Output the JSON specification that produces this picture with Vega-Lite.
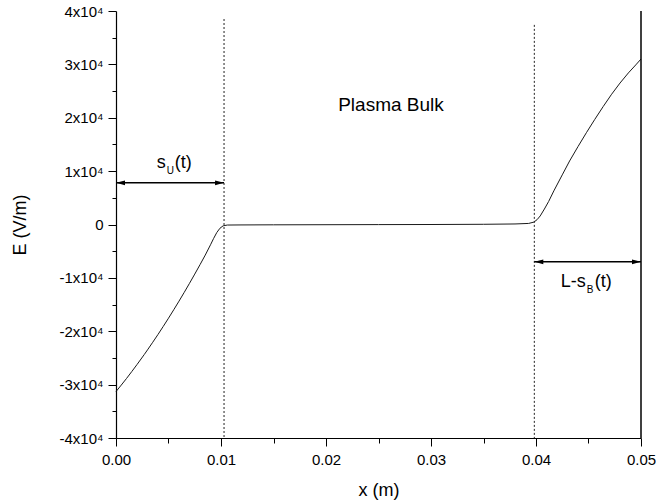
{
  "$schema": "https://vega.github.io/schema/vega-lite/v6.json",
  "autosize": {"type": "none"},
  "width": 525,
  "height": 427,
  "padding": {"left": 116, "top": 11, "right": 15, "bottom": 66},
  "background": "white",
  "config": {
    "view": {"stroke": null},
    "font": "Liberation Sans",
    "axis": {
      "domainColor": "#000",
      "domainWidth": 1.2,
      "tickColor": "#000",
      "tickWidth": 1,
      "grid": false,
      "labelFont": "Liberation Sans",
      "labelFontSize": 15,
      "labelColor": "#000",
      "titleFont": "Liberation Sans",
      "titleFontSize": 18,
      "titleFontWeight": "normal",
      "titleColor": "#000",
      "labelOverlap": false,
      "labelFlush": false
    }
  },
  "resolve": {"axis": {"x": "independent", "y": "independent"}},
  "datasets": {
    "curve": [
      {"x": 0.0, "E": -31300},
      {"x": 0.0005, "E": -30090},
      {"x": 0.001, "E": -28850},
      {"x": 0.0015, "E": -27560},
      {"x": 0.002, "E": -26240},
      {"x": 0.0027, "E": -24340},
      {"x": 0.003, "E": -23490},
      {"x": 0.0035, "E": -22060},
      {"x": 0.004, "E": -20600},
      {"x": 0.0045, "E": -19090},
      {"x": 0.005, "E": -17550},
      {"x": 0.0055, "E": -15970},
      {"x": 0.006, "E": -14360},
      {"x": 0.0065, "E": -12710},
      {"x": 0.007, "E": -11020},
      {"x": 0.0075, "E": -9290},
      {"x": 0.008, "E": -7530},
      {"x": 0.0085, "E": -5730},
      {"x": 0.009, "E": -3800},
      {"x": 0.0093, "E": -2600},
      {"x": 0.0096, "E": -1500},
      {"x": 0.0099, "E": -700},
      {"x": 0.0102, "E": -250},
      {"x": 0.0106, "E": -100},
      {"x": 0.012, "E": -80},
      {"x": 0.015, "E": -60},
      {"x": 0.02, "E": -40},
      {"x": 0.025, "E": -20},
      {"x": 0.03, "E": 0},
      {"x": 0.035, "E": 40},
      {"x": 0.038, "E": 100},
      {"x": 0.0393, "E": 200},
      {"x": 0.0398, "E": 450},
      {"x": 0.0401, "E": 900},
      {"x": 0.0404, "E": 1600},
      {"x": 0.0408, "E": 2900},
      {"x": 0.0412, "E": 4300},
      {"x": 0.0417, "E": 6300},
      {"x": 0.0425, "E": 9300},
      {"x": 0.0432, "E": 11900},
      {"x": 0.044, "E": 14600},
      {"x": 0.0448, "E": 17200},
      {"x": 0.0456, "E": 19700},
      {"x": 0.0464, "E": 22100},
      {"x": 0.0472, "E": 24400},
      {"x": 0.048, "E": 26500},
      {"x": 0.0488, "E": 28400},
      {"x": 0.0495, "E": 29900},
      {"x": 0.05, "E": 31000}
    ],
    "vlines": [
      {"x": 0.01029, "top": 38500, "bottom": -40000},
      {"x": 0.03984, "top": 37400, "bottom": -40000}
    ],
    "wall": [{"x": 0.05}],
    "arrows": [
      {"x1": 0.0, "x2": 0.01029, "y": 7800},
      {"x1": 0.03984, "x2": 0.05, "y": -7000}
    ],
    "heads": [
      {"x": 0.0, "y": 7800, "dir": "left"},
      {"x": 0.01029, "y": 7800, "dir": "right"},
      {"x": 0.03984, "y": -7000, "dir": "left"},
      {"x": 0.05, "y": -7000, "dir": "right"}
    ],
    "labels": [
      {"x": 0.00473, "y": 11500, "main": "s", "sub": "U", "tail": "(t)"},
      {"x": 0.04473, "y": -10800, "main": "L-s", "sub": "B", "tail": "(t)"}
    ],
    "bulk": [{"x": 0.02619, "y": 22300, "text": "Plasma Bulk"}]
  },
  "layer": [
    {
      "data": {"name": "curve"},
      "mark": {"type": "line", "color": "#1a1a1a", "strokeWidth": 1},
      "encoding": {
        "x": {
          "field": "x", "type": "quantitative", "title": "x (m)",
          "scale": {"domain": [0, 0.05], "nice": false, "zero": false},
          "axis": {
            "orient": "bottom",
            "values": [0, 0.01, 0.02, 0.03, 0.04, 0.05],
            "format": ".2f",
            "tickSize": 8,
            "labelPadding": 6,
            "titlePadding": 14
          }
        },
        "y": {
          "field": "E", "type": "quantitative", "title": "E (V/m)",
          "scale": {"domain": [-40000, 40000], "nice": false, "zero": false},
          "axis": {
            "orient": "left",
            "values": [-40000, -30000, -20000, -10000, 0, 10000, 20000, 30000, 40000],
            "labelExpr": "datum.value == 0 ? '0' : (datum.value/10000) + 'x10⁴'",
            "tickSize": 8,
            "labelPadding": 5,
            "titlePadding": 30
          }
        }
      }
    },
    {
      "data": {"name": "vlines"},
      "mark": {"type": "rule", "color": "#222", "strokeWidth": 1, "strokeDash": [2, 2]},
      "encoding": {
        "x": {
          "field": "x", "type": "quantitative", "title": null,
          "axis": {"orient": "bottom", "values": [0.005, 0.015, 0.025, 0.035, 0.045], "labels": false, "tickSize": 5, "domain": false, "title": null}
        },
        "y": {
          "field": "top", "type": "quantitative", "title": null,
          "axis": {"orient": "left", "values": [-35000, -25000, -15000, -5000, 5000, 15000, 25000, 35000], "labels": false, "tickSize": 4, "domain": false, "title": null}
        },
        "y2": {"field": "bottom"}
      }
    },
    {
      "data": {"name": "wall"},
      "mark": {"type": "rule", "color": "#000", "strokeWidth": 1.5},
      "encoding": {
        "x": {"field": "x", "type": "quantitative", "axis": null}
      }
    },
    {
      "data": {"name": "arrows"},
      "mark": {"type": "rule", "color": "#000", "strokeWidth": 1.5},
      "encoding": {
        "x": {"field": "x1", "type": "quantitative", "axis": null},
        "x2": {"field": "x2"},
        "y": {"field": "y", "type": "quantitative", "axis": null}
      }
    },
    {
      "data": {"name": "heads"},
      "mark": {"type": "point", "filled": true, "color": "#000", "opacity": 1, "size": 81, "strokeWidth": 0},
      "encoding": {
        "x": {"field": "x", "type": "quantitative", "axis": null},
        "y": {"field": "y", "type": "quantitative", "axis": null},
        "shape": {
          "field": "dir", "type": "nominal", "legend": null,
          "scale": {"domain": ["left", "right"], "range": ["M 0 0 L 2 -0.55 L 2 0.55 Z", "M 0 0 L -2 -0.55 L -2 0.55 Z"]}
        }
      }
    },
    {
      "data": {"name": "labels"},
      "mark": {"type": "text", "align": "right", "baseline": "middle", "fontSize": 18, "color": "#000", "font": "Liberation Sans"},
      "encoding": {
        "x": {"field": "x", "type": "quantitative", "axis": null},
        "y": {"field": "y", "type": "quantitative", "axis": null},
        "text": {"field": "main"}
      }
    },
    {
      "data": {"name": "labels"},
      "mark": {"type": "text", "align": "left", "baseline": "middle", "fontSize": 10, "dx": 1, "dy": 8, "color": "#000", "font": "Liberation Sans"},
      "encoding": {
        "x": {"field": "x", "type": "quantitative", "axis": null},
        "y": {"field": "y", "type": "quantitative", "axis": null},
        "text": {"field": "sub"}
      }
    },
    {
      "data": {"name": "labels"},
      "mark": {"type": "text", "align": "left", "baseline": "middle", "fontSize": 18, "dx": 9, "color": "#000", "font": "Liberation Sans"},
      "encoding": {
        "x": {"field": "x", "type": "quantitative", "axis": null},
        "y": {"field": "y", "type": "quantitative", "axis": null},
        "text": {"field": "tail"}
      }
    },
    {
      "data": {"name": "bulk"},
      "mark": {"type": "text", "align": "center", "baseline": "middle", "fontSize": 19, "color": "#000", "font": "Liberation Sans"},
      "encoding": {
        "x": {"field": "x", "type": "quantitative", "axis": null},
        "y": {"field": "y", "type": "quantitative", "axis": null},
        "text": {"field": "text"}
      }
    }
  ]
}
